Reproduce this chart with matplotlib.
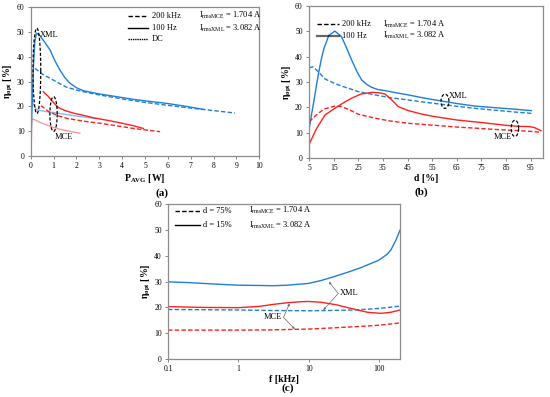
import numpy as np
import matplotlib
matplotlib.use("Agg")
import matplotlib.pyplot as plt

plt.rcParams['font.family'] = ['Liberation Serif', 'DejaVu Serif']
plt.rcParams['mathtext.fontset'] = 'custom'
plt.rcParams['mathtext.rm'] = 'Liberation Serif'
plt.rcParams['mathtext.it'] = 'Liberation Serif:italic'
plt.rcParams['mathtext.bf'] = 'Liberation Serif:bold'

BLUE = '#1f7fd6'
RED = '#ff2020'
LBLUE = '#86bdea'
PINK = '#f59a9a'

# ---------------- panel (a) data ----------------
a_xml_100hz_p = [0.03, 0.07, 0.12, 0.18, 0.25, 0.4, 0.6, 0.85, 1.05, 1.28, 1.5, 1.72, 2.0, 2.3, 3.0, 3.76, 4.5, 5.2, 5.95, 6.8, 7.55]
a_xml_100hz_eta = [11.5, 22, 36, 46, 49.5, 48.5, 46, 42.7, 38.5, 34.6, 31.5, 29.3, 27.5, 26.3, 25.0, 23.9, 22.8, 22.0, 21.2, 20.0, 18.8]
a_xml_200k_p = [0.19, 0.5, 0.85, 1.2, 1.57, 2.0, 2.3, 3.0, 4.0, 5.0, 6.0, 7.0, 8.0, 8.94]
a_xml_200k_eta = [35.3, 33.0, 31.3, 29.5, 27.7, 26.6, 25.9, 24.6, 23.0, 21.6, 20.4, 19.3, 18.3, 17.3]
a_mce_100hz_p = [0.55, 0.75, 0.95, 1.2, 1.5, 1.9, 2.3, 2.8, 3.4, 4.0, 4.5, 4.93]
a_mce_100hz_eta = [25.9, 24.2, 22.0, 19.6, 18.3, 17.2, 16.4, 15.3, 14.3, 13.2, 12.2, 11.1]
a_mce_200k_p = [0.45, 0.8, 1.2, 1.57, 2.0, 2.5, 3.03, 3.8, 4.49, 5.1, 5.66]
a_mce_200k_eta = [20.3, 17.8, 16.2, 15.2, 14.5, 13.8, 13.2, 12.1, 11.1, 10.4, 9.8]
a_xml_dc_p = [0.0, 0.02, 0.1, 0.25, 0.6, 1.0, 1.5, 2.0, 2.5, 2.85]
a_xml_dc_eta = [14.0, 23.8, 21.0, 18.7, 18.0, 17.5, 16.8, 16.1, 15.5, 15.1]
a_mce_dc_p = [0.02, 0.05, 0.15, 0.4, 0.7, 1.0, 1.4, 1.8, 2.15]
a_mce_dc_eta = [2.5, 15.0, 14.7, 13.6, 12.5, 11.5, 10.5, 9.8, 9.2]

# ---------------- panel (b) data ----------------
b_xml_100hz_d = [5.1, 6, 7, 8, 9, 10, 11, 13, 15.5, 18.2, 20, 22.3, 24.5, 26.4, 28.5, 30.4, 33, 35.8, 40, 45.3, 52, 58.8, 65, 72.3, 80, 88, 95.3]
b_xml_100hz_eta = [11.7, 17, 22.5, 28.5, 34, 39, 43, 48.3, 50.1, 47.9, 44, 38.7, 34, 30.8, 29.0, 27.9, 27.0, 26.6, 25.8, 24.9, 23.6, 22.5, 21.5, 20.5, 19.9, 19.3, 18.7]
b_xml_200k_d = [5.1, 6.5, 8, 11.5, 15, 18.2, 22, 25, 31.8, 38, 45.3, 52, 58.8, 65, 72.3, 80, 88, 95.3]
b_xml_200k_eta = [35.6, 36.0, 34.8, 31.2, 29.6, 28.4, 27.2, 26.2, 24.9, 23.8, 22.9, 22.0, 21.2, 20.4, 19.6, 18.9, 18.2, 17.6]
b_mce_100hz_d = [5.1, 8, 11.5, 15.5, 19, 22.3, 26, 30.4, 33, 35.8, 38.5, 41.2, 45, 50, 55, 65, 75, 85, 90, 94.6, 96.5, 99.2]
b_mce_100hz_eta = [5.5, 11.5, 17.0, 19.6, 21.8, 23.6, 25.2, 25.9, 25.8, 25.3, 23.0, 20.3, 18.8, 17.5, 16.5, 15.0, 14.0, 12.9, 12.5, 12.4, 12.0, 10.8]
b_mce_200k_d = [5.1, 8, 11, 15.5, 18, 21, 25, 31.8, 38, 45.3, 52, 58.8, 65, 72.3, 80, 88, 95.3, 99.2]
b_mce_200k_eta = [14.3, 17.0, 19.3, 20.5, 20.3, 19.2, 17.3, 15.7, 14.6, 13.7, 13.2, 12.7, 12.2, 11.8, 11.3, 10.9, 10.5, 10.1]

# ---------------- panel (c) data ----------------
c_xml_d15_f = [0.1, 0.2, 0.5, 1, 2, 3.2, 5, 10, 15, 22.9, 35, 55.3, 80, 100, 130, 148, 175, 200]
c_xml_d15_eta = [29.9, 29.6, 29.0, 28.6, 28.5, 28.4, 28.6, 29.3, 30.4, 31.9, 33.5, 35.4, 37.2, 38.3, 40.5, 42.2, 46.1, 49.9]
c_mce_d15_f = [0.1, 0.3, 1, 2, 3.2, 5, 7.65, 10, 14.9, 25, 36, 50, 69, 107, 148, 200]
c_mce_d15_eta = [20.3, 20.0, 19.9, 20.4, 21.2, 21.8, 22.2, 22.3, 22.0, 21.0, 19.9, 19.0, 18.1, 17.7, 18.1, 19.0]
c_xml_d75_f = [0.1, 0.3, 1, 3, 10, 20, 44, 70, 100, 150, 200]
c_xml_d75_eta = [19.2, 19.1, 19.0, 18.8, 18.7, 18.8, 19.0, 19.3, 19.6, 20.1, 20.5]
c_mce_d75_f = [0.1, 0.3, 1, 3, 10, 20, 44, 70, 100, 150, 200]
c_mce_d75_eta = [11.2, 11.2, 11.2, 11.3, 11.6, 12.0, 12.5, 12.8, 13.1, 13.6, 14.0]

irms_text = [r'I$_{\mathrm{rmsMCE}}$ = 1.704 A', r'I$_{\mathrm{rmsXML}}$ = 3.082 A']

DASH = (0, (3.2, 1.6))
LW = 1.0
TFS = 5.5
LFS = 7

fig = plt.figure(figsize=(5.5, 3.97), dpi=100)


def style_ax(ax):
    for s in ax.spines.values():
        s.set_color('#8c8c8c')
        s.set_linewidth(0.9)
    ax.tick_params(direction='out', length=2.5, width=0.5, colors='#555555',
                   labelsize=TFS, labelcolor='black', pad=2)


def ellipse(ax, cx, cy, rx, ry):
    t = np.linspace(0, 2 * np.pi, 100)
    ax.plot(cx + rx * np.cos(t), cy + ry * np.sin(t), color='black', lw=0.9, ls=(0, (2.5, 1.5)))


ylab = r'$\mathbf{\eta_{opt}}$ [%]'

# ---------------- (a) ----------------
ax = fig.add_axes([0.0558, 0.607, 0.4157, 0.3753])
ax.plot(a_xml_dc_p, a_xml_dc_eta, color=LBLUE, lw=LW)
ax.plot(a_mce_dc_p, a_mce_dc_eta, color=PINK, lw=LW)
ax.plot(a_xml_200k_p, a_xml_200k_eta, color=BLUE, lw=LW, ls=DASH)
ax.plot(a_xml_100hz_p, a_xml_100hz_eta, color=BLUE, lw=LW)
ax.plot(a_mce_200k_p, a_mce_200k_eta, color=RED, lw=LW, ls=DASH)
ax.plot(a_mce_100hz_p, a_mce_100hz_eta, color=RED, lw=LW)
ellipse(ax, 0.27, 34.3, 0.17, 17.2)
ellipse(ax, 1.0, 16.9, 0.16, 7.0)
ax.text(0.4, 48.6, 'XML', fontsize=TFS + 0.5, va='center', ha='left')
ax.text(1.05, 7.6, 'MCE', fontsize=TFS + 0.5, va='center', ha='left')
ax.set_xlim(0, 10)
ax.set_ylim(0, 60)
ax.set_xticks(range(0, 11))
ax.set_yticks(range(0, 61, 10))
style_ax(ax)
ax.set_xlabel(r'$\mathbf{P_{AVG}}$ [W]', fontsize=LFS, fontweight='bold', labelpad=1)
ax.set_ylabel(r'$\mathbf{\eta_{opt}}$ [%]', fontsize=LFS, fontweight='bold', labelpad=1)
leg_styles = [DASH, '-', (0, (1, 0.6))]
leg_names = ['200 kHz', '100 Hz', 'DC']
leg_y = [56.5, 51.4, 47.0]
for st, nm, yy in zip(leg_styles, leg_names, leg_y):
    ax.plot([4.24, 5.14], [yy, yy], color='black', lw=LW, ls=st)
    ax.text(5.29, yy, nm, fontsize=TFS + 0.5, va='center', ha='left')
ax.text(7.36, 56.5, irms_text[0], fontsize=TFS + 0.5, va='center', ha='left')
ax.text(7.36, 51.4, irms_text[1], fontsize=TFS + 0.5, va='center', ha='left')
fig.text(162 / 550, 1 - 193 / 397, '(a)', fontsize=8, ha='center', va='center', fontweight='bold')

# ---------------- (b) ----------------
ax = fig.add_axes([0.5618, 0.602, 0.4255, 0.383])
ax.plot(b_xml_200k_d, b_xml_200k_eta, color=BLUE, lw=LW, ls=DASH)
ax.plot(b_xml_100hz_d, b_xml_100hz_eta, color=BLUE, lw=LW)
ax.plot(b_mce_200k_d, b_mce_200k_eta, color=RED, lw=LW, ls=DASH)
ax.plot(b_mce_100hz_d, b_mce_100hz_eta, color=RED, lw=LW)
ellipse(ax, 60.2, 22.4, 1.6, 2.8)
ellipse(ax, 88.6, 11.7, 1.5, 3.2)
ax.text(61.8, 24.6, 'XML', fontsize=TFS + 0.5, va='center', ha='left')
ax.text(87.3, 8.3, 'MCE', fontsize=TFS + 0.5, va='center', ha='right')
ax.set_xlim(5, 100)
ax.set_ylim(0, 60)
ax.set_xticks(range(5, 96, 10))
ax.set_yticks(range(0, 61, 10))
style_ax(ax)
ax.set_xlabel(r'd [%]', fontsize=LFS, fontweight='bold', labelpad=1)
ax.set_ylabel(ylab, fontsize=LFS, fontweight='bold', labelpad=1)
for st, nm, yy in zip([DASH, '-'], ['200 kHz', '100 Hz'], [52.8, 48.3]):
    ax.plot([8.1, 17.2], [yy, yy], color='black', lw=LW if st != '-' else 1.6, ls=st,
            alpha=1 if st != '-' else 0.6)
    ax.text(18.2, yy, nm, fontsize=TFS + 0.5, va='center', ha='left')
ax.text(35.1, 52.8, irms_text[0], fontsize=TFS + 0.5, va='center', ha='left')
ax.text(35.1, 48.3, irms_text[1], fontsize=TFS + 0.5, va='center', ha='left')
fig.text(421 / 550, 1 - 192 / 397, '(b)', fontsize=8, ha='center', va='center', fontweight='bold')

# ---------------- (c) ----------------
ax = fig.add_axes([0.3055, 0.0957, 0.4218, 0.390])
ax.plot(c_xml_d75_f, c_xml_d75_eta, color=BLUE, lw=LW, ls=DASH)
ax.plot(c_xml_d15_f, c_xml_d15_eta, color=BLUE, lw=LW)
ax.plot(c_mce_d75_f, c_mce_d75_eta, color=RED, lw=LW, ls=DASH)
ax.plot(c_mce_d15_f, c_mce_d15_eta, color=RED, lw=LW)
ax.set_xscale('log')
ax.set_xlim(0.1, 200)
ax.set_ylim(0, 60)
ax.set_xticks([0.1, 1, 10, 100])
ax.set_xticklabels(['0.1', '1', '10', '100'])
ax.minorticks_off()
ax.set_yticks(range(0, 61, 10))
style_ax(ax)
ax.set_xlabel(r'f [kHz]', fontsize=LFS, fontweight='bold', labelpad=1)
ax.set_ylabel(ylab, fontsize=LFS, fontweight='bold', labelpad=1)
arr = dict(arrowstyle='-|>', lw=0.5, color='#666666', mutation_scale=3, shrinkA=0, shrinkB=0)
for tgt in [(19.5, 29.9), (16.2, 19.0)]:
    ax.annotate('', xy=tgt, xytext=(26.5, 25.4), arrowprops=arr)
ax.text(27.5, 25.4, 'XML', fontsize=TFS + 0.5, va='center', ha='left')
for tgt in [(5.35, 21.5), (6.37, 11.6)]:
    ax.annotate('', xy=tgt, xytext=(4.4, 16.1), arrowprops=arr)
ax.text(4.25, 16.1, 'MCE', fontsize=TFS + 0.5, va='center', ha='right')
for st, nm, yy in zip([DASH, '-'], ['d = 75%', 'd = 15%'], [57.4, 51.9]):
    ax.plot([0.126, 0.286], [yy, yy], color='black', lw=LW, ls=st)
    ax.text(0.319, yy, nm, fontsize=TFS + 0.5, va='center', ha='left')
ax.text(1.4, 57.4, irms_text[0], fontsize=TFS + 0.5, va='center', ha='left')
ax.text(1.4, 51.9, irms_text[1], fontsize=TFS + 0.5, va='center', ha='left')
fig.text(288 / 550, 1 - 388 / 397, '(c)', fontsize=8, ha='center', va='center', fontweight='bold')

fig.savefig('out.png', dpi=100)
